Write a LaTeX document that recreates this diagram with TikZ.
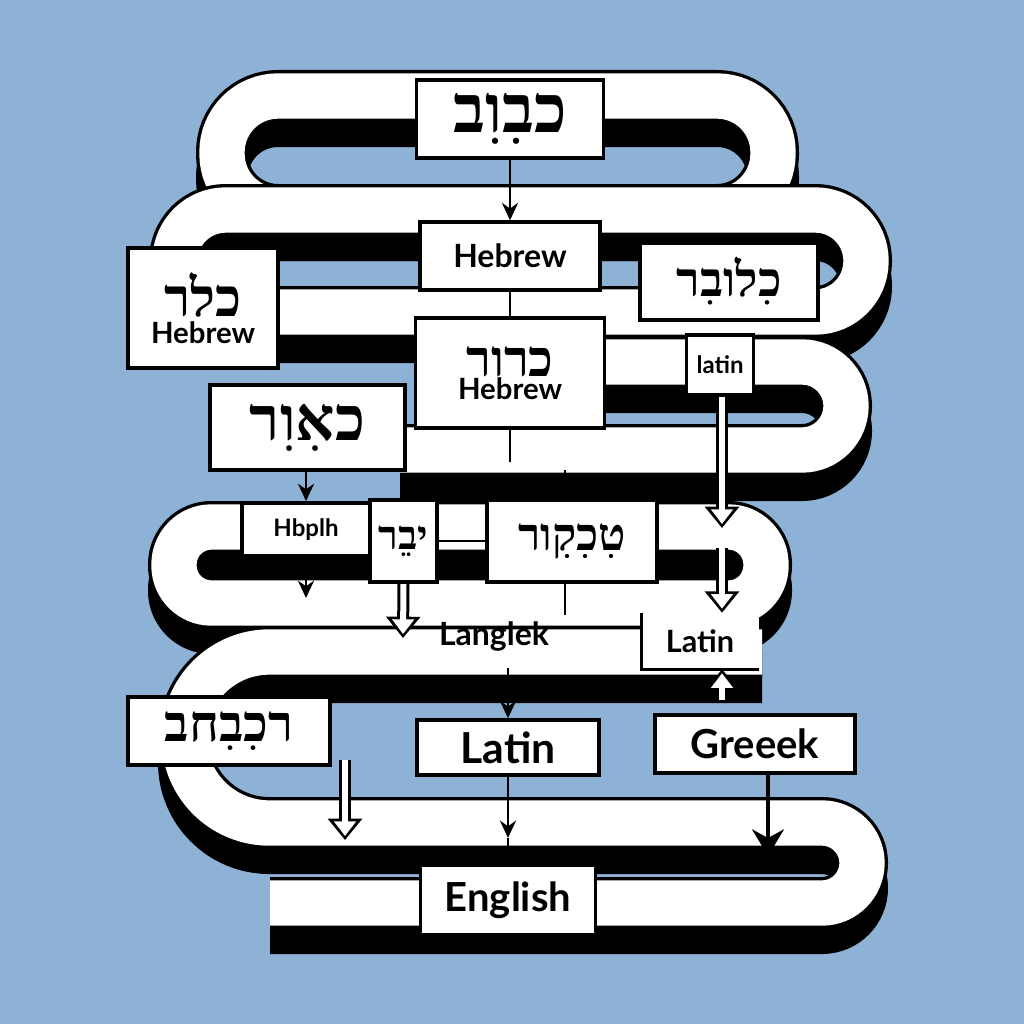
\documentclass[tikz,border=0pt]{standalone}
\usepackage{fontspec}
\setmainfont{Lato}
\newfontfamily\heb[Script=Hebrew]{Liberation Serif}
\TeXXeTstate=1
\usetikzlibrary{arrows.meta,calc}
\definecolor{bg}{HTML}{8EB2D6}
\newcommand\tube[1]{%
  \draw[line width=39pt,black,yshift=-18.75pt] #1;
  \draw[line width=39pt,black] #1;
  \draw[line width=34pt,white] #1;}
\newcommand\hollow[2]{%
  \draw[line width=9pt,-{Triangle[length=16pt,width=25pt]}] #1 -- #2;
  \draw[line width=4.5pt,white,shorten >=3pt,-{Triangle[length=11pt,width=16pt]}] #1 -- #2;}
\newcommand\hebt[2]{{\heb\bfseries\fontsize{#1}{#1}\selectfont\beginR #2\endR}}
\newcommand\latt[2]{{\fontsize{#1}{#1}\selectfont\bfseries #2}}
\tikzset{
  box/.style={draw=black, line width=2.6pt, fill=white, inner sep=0pt, align=center},
  arr/.style={line width=2.2pt, -{Stealth[length=13pt,width=12pt]}},
  bigarr/.style={line width=2.6pt, -{Stealth[length=20pt,width=24pt]}},
  conn/.style={line width=2.2pt},
}
\begin{document}
\begin{tikzpicture}[x=0.75pt,y=-0.75pt]
\useasboundingbox (0,0) rectangle (1024,1024);
\fill[bg] (0,0) rectangle (1024,1024);
% tubes
\tube{[rounded corners=42pt] (222,96) rectangle (773,210)}
\tube{(175,340) [rounded corners=38pt] -- (175,210) -- (866,210) -- (866,312) -- (275,312)}
\tube{(600,362) [rounded corners=33pt] -- (846,362) -- (846,450) -- (400,450)}
\tube{[rounded corners=28pt] (174,527) rectangle (766,603)}
\tube{(762,652) [rounded corners=64pt] -- (184,652) -- (184,823) [rounded corners=30pt] -- (862,823) -- (862,903) -- (270,903)}
% coordinates
\coordinate (c1) at (306,598);
\coordinate (c2) at (403,638);
\coordinate (c3) at (722,528);
\coordinate (c4) at (722,548);
\coordinate (c5) at (722,700);
\coordinate (c6) at (345,760);
\coordinate (c7) at (345,840);
\coordinate (c8) at (508,668);
\coordinate (c9) at (508,838);
\coordinate (c10) at (768,856);
\coordinate (c11) at (565,470);
\coordinate (c12) at (565,615);
\coordinate (c13) at (510,462);
% nodes
\node[box, minimum width=140pt, minimum height=58.5pt] (b1) at (510,119) {\hebt{50pt}{כבִוִב}};
\node[box, minimum width=135pt, minimum height=51pt] (b2) at (510,256) {\latt{24pt}{Hebrew}};
\node[box, minimum width=112.5pt, minimum height=90pt] (b3) at (203,308) {\hebt{40pt}{כלר}\\[2pt]\latt{22pt}{Hebrew}};
\node[box, minimum width=133.5pt, minimum height=57.75pt] (b4) at (729,281.5) {\hebt{36pt}{כִלובִר}};
\node[box, minimum width=50pt, minimum height=45pt] (b5) at (720,365) {\latt{18pt}{latin}};
\node[box, minimum width=142pt, minimum height=82.5pt] (b6) at (510,373) {\hebt{38pt}{כרור}\\[0pt]\latt{22pt}{Hebrew}};
\node[box, minimum width=146pt, minimum height=64pt] (b7) at (307.5,427.5) {\hebt{46pt}{כאִוִר}};
\node[box, minimum width=96pt, minimum height=40pt] (b8) at (306,529.5) {\latt{18pt}{Hbplh}};
\node[box, minimum width=50pt, minimum height=61.5pt] (b9) at (403.5,541) {\hebt{30pt}{יבֵר}};
\node[box, minimum width=127.5pt, minimum height=61.5pt] (b10) at (572,541) {\hebt{34pt}{טִכִקִור}};
\node (lang) at (494,636) {\latt{24pt}{Langlek}};
\node[fill=white, minimum width=88pt, minimum height=42pt, inner sep=0pt] (b11) at (700,641) {\latt{23pt}{Latin}};
\node[box, minimum width=151.5pt, minimum height=51pt] (b12) at (229,731) {\hebt{38pt}{רכִבִחב}};
\node[box, minimum width=136.5pt, minimum height=41.25pt] (b13) at (508,747.5) {\latt{32pt}{Latin}};
\node[box, minimum width=150pt, minimum height=43.5pt] (b14) at (755,744) {\latt{30pt}{Greeek}};
\node[box, minimum width=131pt, minimum height=52.5pt] (b15) at (508,900) {\latt{30pt}{English}};
% connectors
\draw[conn] (b11.north west) -- (b11.south west) -- (b11.south east);
\draw[arr] (b1.south) -- (b2.north);
\draw[conn] (b2.south) -- (b6.north);
\draw[conn] (b6.south) -- (c13);
\draw[arr] (b7.south -| b8.north) -- (b8.north);
\draw[arr] (b8.south) -- (c1);
\draw[conn] (b9.east) -- (b10.west);
\draw[conn] (c11) -- (c11 |- b10.north);
\draw[conn] (c11 |- b10.south) -- (c12);
\draw[arr] (c8) -- (b13.north);
\draw[arr] (b13.south) -- (c9);
\draw[conn] (c9) -- (b15.north);
\draw[bigarr] (b14.south -| c10) -- (c10);
\hollow{(b9.south)}{(c2)}
\hollow{(b5.south -| c3)}{(c3)}
\hollow{(c4)}{(b11.north -| c4)}
\hollow{(c5)}{(b11.south -| c5)}
\hollow{(c6)}{(c7)}
% redraw boxes on top of hollow starts
\node[box, minimum width=50pt, minimum height=61.5pt] at (b9) {\hebt{30pt}{יבֵר}};
\node[box, minimum width=50pt, minimum height=45pt] at (b5) {\latt{18pt}{latin}};
\end{tikzpicture}
\end{document}
